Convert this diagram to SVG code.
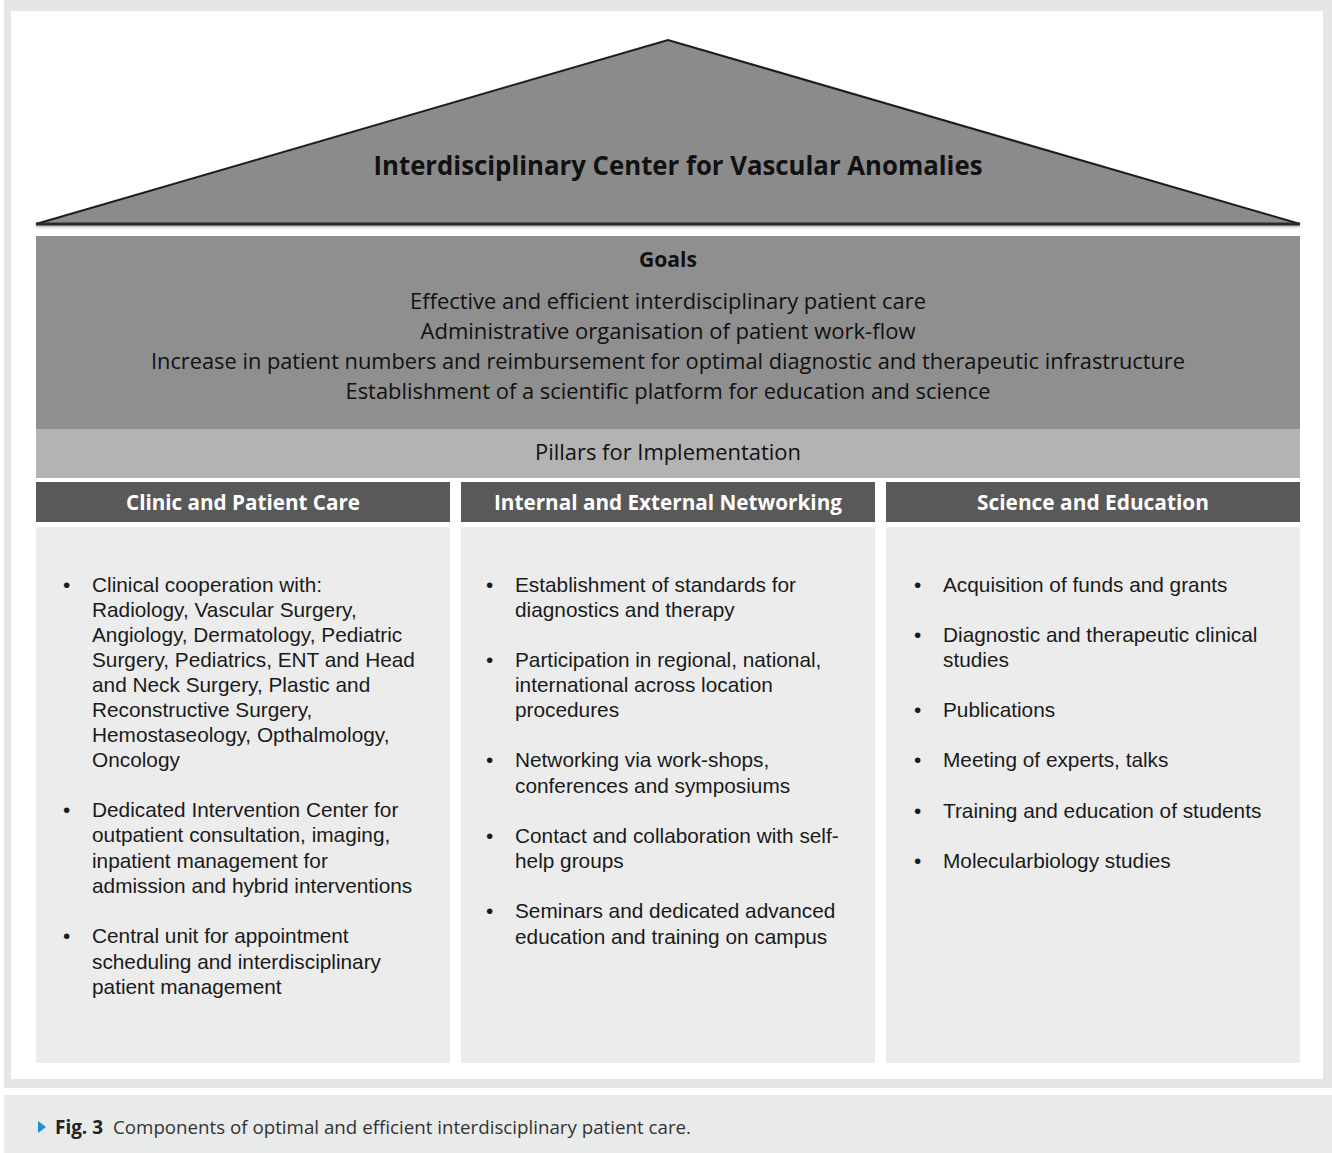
<svg xmlns="http://www.w3.org/2000/svg" width="1332" height="1153" viewBox="0 0 1332 1153">
<style>
.hd{font-family:"Open Sans","Noto Sans",sans-serif;font-size:22px;fill:#111;text-anchor:middle}
.ch{font-family:"Open Sans","Noto Sans",sans-serif;font-size:22px;font-weight:bold;fill:#fff;text-anchor:middle}
.bt{font-family:"Liberation Sans",Arial,sans-serif;font-size:20.8px;fill:#1a1a1a}
.body{fill:#ececec}
.head{fill:#595959}
.cap{font-family:"Liberation Sans Narrow","Open Sans",sans-serif;font-size:19px;fill:#333}
</style>
<defs>
<filter id="sh" x="-5%" y="-50%" width="110%" height="200%">
<feGaussianBlur in="SourceAlpha" stdDeviation="1.5"/>
<feOffset dy="2"/>
<feComponentTransfer><feFuncA type="linear" slope="0.35"/></feComponentTransfer>
<feMerge><feMergeNode/><feMergeNode in="SourceGraphic"/></feMerge>
</filter>
</defs>
<rect x="0" y="0" width="1332" height="1153" fill="#ffffff"/>
<rect x="4" y="0" width="1328" height="1088" fill="#e6e6e6"/>
<rect x="11" y="11" width="1312" height="1068" fill="#ffffff"/>

<g id="roof">
<polygon points="36,224 668,40 1300,224" fill="#8b8b8b" stroke="#1e1e1e" stroke-width="2" stroke-linejoin="miter" filter="url(#sh)"/>
<line x1="36" y1="224" x2="1300" y2="224" stroke="#2a2a2a" stroke-width="3"/>
<text x="678" y="175" class="hd" style="font-size:27px;font-weight:bold" textLength="609" lengthAdjust="spacingAndGlyphs">Interdisciplinary Center for Vascular Anomalies</text>
</g>

<g id="goals">
<rect x="36" y="236" width="1264" height="193" fill="#8f8f8f"/>
<text x="668" y="267" class="hd" style="font-weight:bold" textLength="58" lengthAdjust="spacingAndGlyphs">Goals</text>
<text x="668" y="309" class="hd" textLength="516" lengthAdjust="spacingAndGlyphs">Effective and efficient interdisciplinary patient care</text>
<text x="668" y="339" class="hd" textLength="495" lengthAdjust="spacingAndGlyphs">Administrative organisation of patient work-flow</text>
<text x="668" y="369" class="hd" textLength="1034" lengthAdjust="spacingAndGlyphs">Increase in patient numbers and reimbursement for optimal diagnostic and therapeutic infrastructure</text>
<text x="668" y="399" class="hd" textLength="645" lengthAdjust="spacingAndGlyphs">Establishment of a scientific platform for education and science</text>
</g>

<g id="pillars">
<rect x="36" y="429" width="1264" height="49" fill="#b3b3b3"/>
<text x="668" y="460" class="hd" textLength="266" lengthAdjust="spacingAndGlyphs">Pillars for Implementation</text>
</g>

<g id="col-clinic">
<rect x="36" y="482" width="414" height="40" class="head"/>
<text x="243" y="510" class="ch" textLength="234" lengthAdjust="spacingAndGlyphs">Clinic and Patient Care</text>
<rect x="36" y="527" width="414" height="536" class="body"/>
<g class="bt">
<text x="63" y="592">•</text>
<text x="92" y="592">Clinical cooperation with:</text>
<text x="92" y="617">Radiology, Vascular Surgery,</text>
<text x="92" y="642">Angiology, Dermatology, Pediatric</text>
<text x="92" y="667">Surgery, Pediatrics, ENT and Head</text>
<text x="92" y="692">and Neck Surgery, Plastic and</text>
<text x="92" y="717">Reconstructive Surgery,</text>
<text x="92" y="742">Hemostaseology, Opthalmology,</text>
<text x="92" y="767">Oncology</text>
<text x="63" y="817">•</text>
<text x="92" y="817">Dedicated Intervention Center for</text>
<text x="92" y="842">outpatient consultation, imaging,</text>
<text x="92" y="868">inpatient management for</text>
<text x="92" y="893">admission and hybrid interventions</text>
<text x="63" y="943">•</text>
<text x="92" y="943">Central unit for appointment</text>
<text x="92" y="969">scheduling and interdisciplinary</text>
<text x="92" y="994">patient management</text>
</g>
</g>

<g id="col-networking">
<rect x="461" y="482" width="414" height="40" class="head"/>
<text x="668" y="510" class="ch" textLength="348" lengthAdjust="spacingAndGlyphs">Internal and External Networking</text>
<rect x="461" y="527" width="414" height="536" class="body"/>
<g class="bt">
<text x="486" y="592">•</text>
<text x="515" y="592">Establishment of standards for</text>
<text x="515" y="617">diagnostics and therapy</text>
<text x="486" y="667">•</text>
<text x="515" y="667">Participation in regional, national,</text>
<text x="515" y="692">international across location</text>
<text x="515" y="717">procedures</text>
<text x="486" y="767">•</text>
<text x="515" y="767">Networking via work-shops,</text>
<text x="515" y="793">conferences and symposiums</text>
<text x="486" y="843">•</text>
<text x="515" y="843">Contact and collaboration with self-</text>
<text x="515" y="868">help groups</text>
<text x="486" y="918">•</text>
<text x="515" y="918">Seminars and dedicated advanced</text>
<text x="515" y="944">education and training on campus</text>
</g>
</g>

<g id="col-science">
<rect x="886" y="482" width="414" height="40" class="head"/>
<text x="1093" y="510" class="ch" textLength="232" lengthAdjust="spacingAndGlyphs">Science and Education</text>
<rect x="886" y="527" width="414" height="536" class="body"/>
<g class="bt">
<text x="914" y="592">•</text>
<text x="943" y="592">Acquisition of funds and grants</text>
<text x="914" y="642">•</text>
<text x="943" y="642">Diagnostic and therapeutic clinical</text>
<text x="943" y="667">studies</text>
<text x="914" y="717">•</text>
<text x="943" y="717">Publications</text>
<text x="914" y="767">•</text>
<text x="943" y="767">Meeting of experts, talks</text>
<text x="914" y="818">•</text>
<text x="943" y="818">Training and education of students</text>
<text x="914" y="868">•</text>
<text x="943" y="868">Molecularbiology studies</text>
</g>
</g>

<g id="caption">
<rect x="4" y="1095" width="1328" height="58" fill="#e9ebea"/>
<polygon points="38,1121 46,1127 38,1133" fill="#1b8fd2"/>
<text x="55" y="1134" class="cap" style="font-weight:bold;fill:#222" textLength="48" lengthAdjust="spacingAndGlyphs">Fig. 3</text>
<text x="113" y="1134" class="cap" textLength="578" lengthAdjust="spacingAndGlyphs">Components of optimal and efficient interdisciplinary patient care.</text>
</g>
</svg>
